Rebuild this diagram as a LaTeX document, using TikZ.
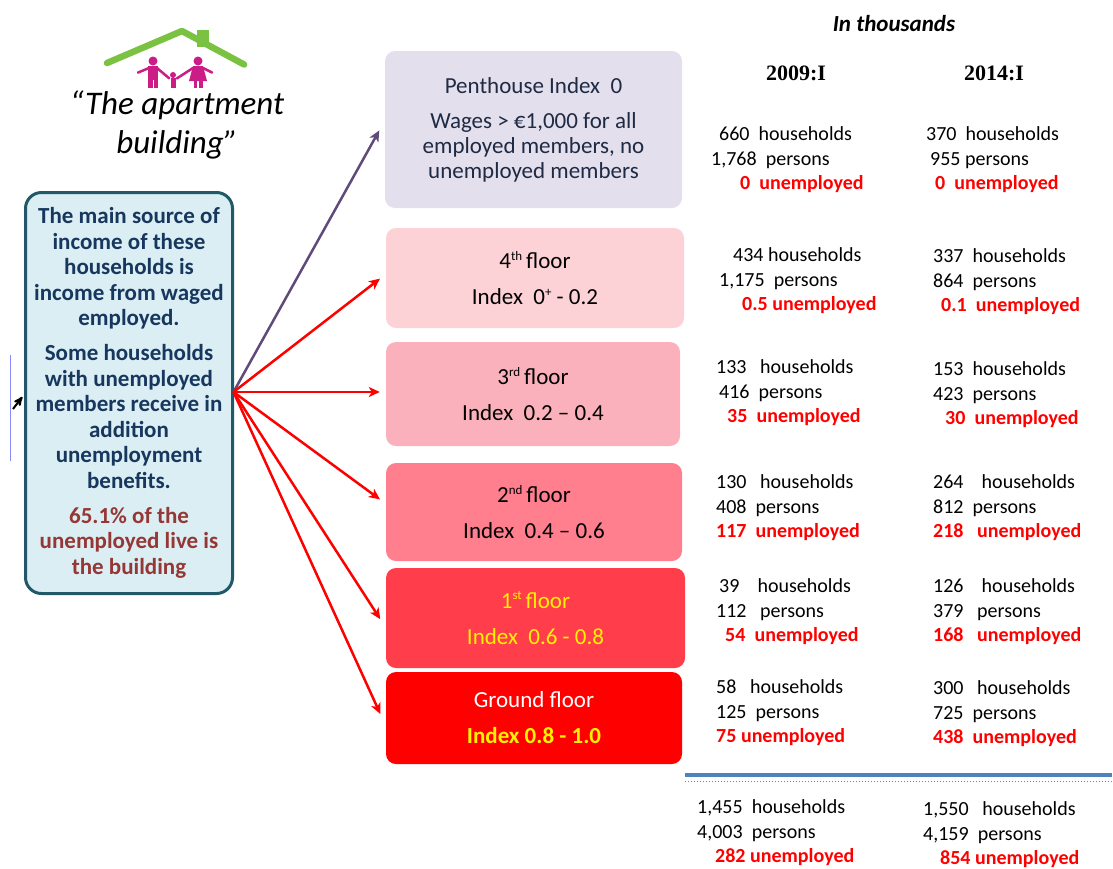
\documentclass[tikz,border=0pt]{standalone}
\usepackage{fontspec}
\setmainfont{Carlito}
\newfontfamily\yearfont{Liberation Serif}
\usepackage{tikz}
\usetikzlibrary{
        arrows,
        arrows.meta,
        positioning
    }
\definecolor{roofgreen}{HTML}{7CC242}
\definecolor{fampink}{HTML}{CC1C86}
\definecolor{infofill}{HTML}{DAEEF3}
\definecolor{infoline}{HTML}{215968}
\definecolor{infotext}{HTML}{17375E}
\definecolor{infored}{HTML}{953735}
\definecolor{pentfill}{HTML}{E4DFEC}
\definecolor{penttext}{HTML}{1F2A44}
\definecolor{floorfour}{HTML}{FDD2D6}
\definecolor{floorthree}{HTML}{FBB1BB}
\definecolor{floortwo}{HTML}{FF7F8F}
\definecolor{floorone}{HTML}{FF3D4B}
\definecolor{floorground}{HTML}{FF0000}
\definecolor{floorgold}{HTML}{FFF200}
\definecolor{arrowpurple}{HTML}{604A7B}
\definecolor{sepblue}{HTML}{4F81BD}
\tikzset{>=stealth',shorten >=1pt}
\tikzset{
    floorbox/.style={rounded corners=10pt,inner sep=0pt,align=center,
        font=\fontsize{23}{36}\selectfont},
    statblock/.style={anchor=west,inner sep=0pt,align=left,
        font=\fontsize{20}{24.5}\selectfont},
    link/.style={-{Stealth[length=11pt,width=10pt,inset=3pt]},line width=2.5pt,red}
}
\newcommand{\flsup}[1]{\raisebox{0.75ex}{\fontsize{13}{13}\selectfont #1}}
\newcommand{\unemp}[1]{\textbf{\color{red}#1}}
\newcommand{\infored}[1]{\color{infored}#1}

\begin{document}
\begin{tikzpicture}[x=1pt,y=-1pt]
                \useasboundingbox (0,0) rectangle (1113,868);
                % logo
                \fill [roofgreen] (197,30) rectangle (209,47);
                \draw [roofgreen,line width=6.5pt,line cap=round,line join=round] (107,63) -- (182,31) -- (245,65);
                \fill [fampink] (153,61) circle (4.5);
                \fill [fampink] (148,66) rectangle (158,80);
                \fill [fampink] (148,80) rectangle (152.5,88);
                \fill [fampink] (153.5,80) rectangle (158,88);
                \draw [fampink,line width=2.5pt,line cap=round] (149,68) -- (137,73);
                \draw [fampink,line width=2.5pt,line cap=round] (157,68) -- (170,79);
                \fill [fampink] (173,75) circle (3);
                \fill [fampink] (170.5,78) rectangle (175.5,88);
                \fill [fampink] (198,61) circle (4.5);
                \fill [fampink] (193,66) -- (203,66) -- (207,81) -- (189,81) -- cycle;
                \fill [fampink] (193.5,81) rectangle (197,88);
                \fill [fampink] (199,81) rectangle (202.5,88);
                \draw [fampink,line width=2.5pt,line cap=round] (193,68) -- (176,79);
                \draw [fampink,line width=2.5pt,line cap=round] (203,68) -- (213,73);
                \node [font=\itshape\fontsize{33}{39}\selectfont,align=center] (title) at (177,125) {“The apartment\\building”};
                % left box
                \node [draw=infoline,line width=3pt,fill=infofill,rounded corners=16pt,inner sep=0pt,
                    minimum width=207pt,minimum height=401pt,align=center,text=infotext,
                    font=\bfseries\fontsize{23}{25.5}\selectfont] (info) at (129,393)
                    {The main source of\\income of these\\households is\\income from waged\\employed.\\[9.5pt]
                     Some households\\with unemployed\\members receive in\\addition\\unemployment\\benefits.\\[9.5pt]
                     \infored{65.1\% of the}\\\infored{unemployed live is}\\\infored{the building}};
                \draw [blue!45!white,line width=0.8pt] (10,355) -- (10,462);
                \draw [->,line width=2pt] (13,409) -- (23,396);
                % floors
                \node [floorbox,fill=pentfill,text=penttext,minimum width=297pt,minimum height=157pt,
                    font=\fontsize{23}{25}\selectfont] (pent) at (533.5,129.5)
                    {Penthouse Index\ \ 0\\[10pt]Wages > €1,000 for all\\employed members, no\\unemployed members};
                \node [floorbox,fill=floorfour,minimum width=298pt,minimum height=100pt] (fl4) at (535,278)
                    {4\flsup{th}\,floor\\Index\ \ 0\flsup{+} - 0.2};
                \node [floorbox,fill=floorthree,minimum width=294pt,minimum height=104pt] (fl3) at (533,394)
                    {3\flsup{rd}\,floor\\Index\ \ 0.2 – 0.4};
                \node [floorbox,fill=floortwo,minimum width=296pt,minimum height=98pt] (fl2) at (534,512)
                    {2\flsup{nd}\,floor\\Index\ \ 0.4 – 0.6};
                \node [floorbox,fill=floorone,text=floorgold,minimum width=299pt,minimum height=100pt] (fl1) at (535.5,618)
                    {1\flsup{st}\,floor\\Index\ \ 0.6 - 0.8};
                \node [floorbox,fill=floorground,text=white,minimum width=296pt,minimum height=92pt] (flg) at (534,718)
                    {Ground floor\\\textbf{\color{floorgold}Index 0.8 - 1.0}};
                % arrows
                \coordinate (hub) at ([xshift=-0.5pt,yshift=1pt]info.east);
                \draw [link,arrowpurple] (hub) -- ([xshift=-5pt]pent.west);
                \foreach \f/\dy in {fl4/0,fl3/2,fl2/12,fl1/-2,flg/3}
                    \draw [link] (hub) -- ([xshift=-5pt,yshift=\dy pt]\f.west);
                % figures
                \node [font=\bfseries\itshape\fontsize{23}{23}\selectfont] (unit) at (894,24) {In thousands};
                \node [font=\yearfont\bfseries\fontsize{22}{22}\selectfont] (y09) at (796,73) {2009:I};
                \node [font=\yearfont\bfseries\fontsize{22}{22}\selectfont] (y14) at (994,73) {2014:I};
                \node [statblock] (p09) at (711,160) {\hspace*{8pt}660\ \ households\\1,768\ \ persons\\\hspace*{29pt}\unemp{0\ \ unemployed}};
                \node [statblock] (p14) at (926,160) {370\ \ households\\\hspace*{4pt}955 persons\\\hspace*{9pt}\unemp{0\ \ unemployed}};
                \node [statblock] (f409) at (719,281) {\hspace*{14pt}434 households\\1,175\ \ persons\\\hspace*{23pt}\unemp{0.5 unemployed}};
                \node [statblock] (f414) at (933,282) {337\ \ households\\864\ \ persons\\\hspace*{8pt}\unemp{0.1\ \ unemployed}};
                \node [statblock] (f309) at (716,393) {133\ \ \ households\\\hspace*{3pt}416\ \ persons\\\hspace*{11pt}\unemp{35\ \ unemployed}};
                \node [statblock] (f314) at (933,395) {153\ \ households\\423\ \ persons\\\hspace*{12pt}\unemp{30\ \ unemployed}};
                \node [statblock] (f209) at (716,508) {130\ \ \ households\\408\ \ persons\\\unemp{117\ \ unemployed}};
                \node [statblock] (f214) at (933,508) {264\ \ \ \ households\\812\ \ persons\\\unemp{218\ \ \ unemployed}};
                \node [statblock] (f109) at (716,612) {\hspace*{3pt}39\ \ \ \ households\\112\ \ \ persons\\\hspace*{9pt}\unemp{54\ \ unemployed}};
                \node [statblock] (f114) at (933,612) {126\ \ \ \ households\\379\ \ \ persons\\\unemp{168\ \ \ unemployed}};
                \node [statblock] (g09) at (716,713) {58\ \ \ households\\125\ \ persons\\\unemp{75 unemployed}};
                \node [statblock] (g14) at (933,714) {300\ \ \ households\\725\ \ persons\\\unemp{438\ \ unemployed}};
                \coordinate (sepl) at (685,775);
                \coordinate (sepr) at (1113,775);
                \draw [sepblue,line width=4.5pt] (sepl) -- (sepr);
                \draw [gray,dotted,line width=1pt] ([yshift=-6pt]sepl) -- ([yshift=-6pt]sepr);
                \node [statblock] (t09) at (697,833) {1,455\ \ households\\4,003\ \ persons\\\hspace*{18pt}\unemp{282 unemployed}};
                \node [statblock] (t14) at (923,835) {1,550\ \ \ households\\4,159\ \ persons\\\hspace*{17pt}\unemp{854 unemployed}};
            \end{tikzpicture}
\end{document}
